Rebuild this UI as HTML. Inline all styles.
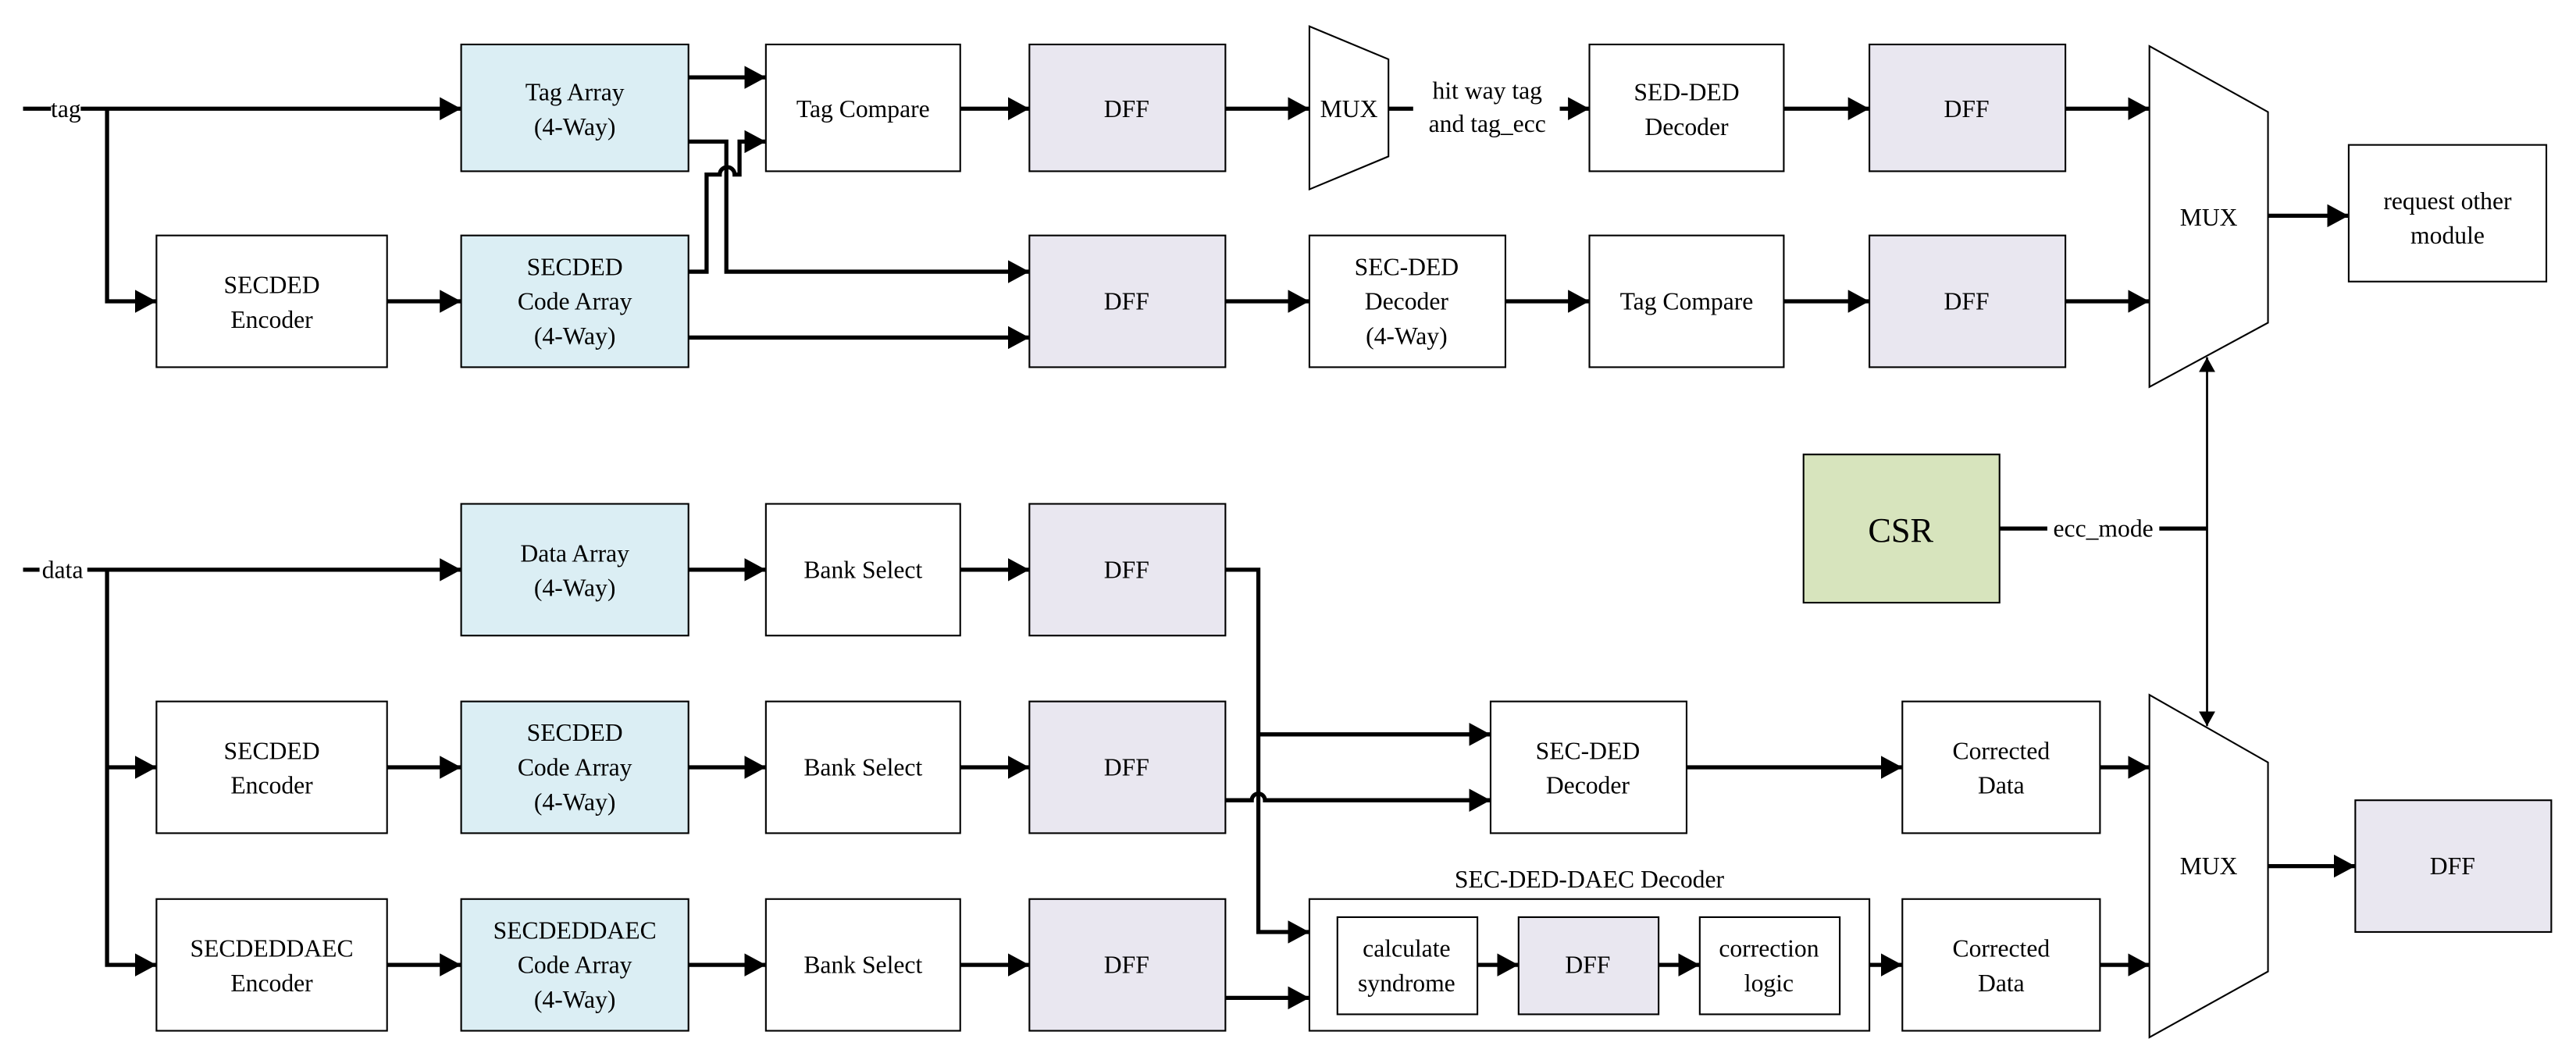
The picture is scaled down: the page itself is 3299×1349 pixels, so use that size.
<!DOCTYPE html>
<html><head><meta charset="utf-8"><style>
html,body{margin:0;padding:0;background:#fff;}
svg{display:block;}
text{font-family:"Liberation Serif",serif;font-size:15px;fill:#000;text-anchor:middle;}
</style></head><body>
<svg width="3299" height="1349" viewBox="0 0 1564 639.5" preserveAspectRatio="none" xmlns="http://www.w3.org/2000/svg">
<defs>
<marker id="a" markerUnits="userSpaceOnUse" markerWidth="14" markerHeight="14" refX="13" refY="7" orient="auto"><path d="M0,0 L13,7 L0,14 Z" fill="#000"/></marker>
<marker id="t" markerUnits="userSpaceOnUse" markerWidth="10" markerHeight="12" refX="9" refY="5" orient="auto"><path d="M0,0 L9,5 L0,10 Z" fill="#000"/></marker>
</defs>
<g stroke="#000" stroke-width="1" fill="#fff">
<rect x="280" y="27" width="138" height="77" fill="#dbeef4"/>
<rect x="465" y="27" width="118" height="77"/>
<rect x="625" y="27" width="119" height="77" fill="#e9e7f0"/>
<polygon points="795,16 843,36 843,95 795,115"/>
<rect x="965" y="27" width="118" height="77"/>
<rect x="1135" y="27" width="119" height="77" fill="#e9e7f0"/>
<polygon points="1305,28 1377,68 1377,196 1305,235"/>
<rect x="1426" y="88" width="120" height="83"/>
<rect x="95" y="143" width="140" height="80"/>
<rect x="280" y="143" width="138" height="80" fill="#dbeef4"/>
<rect x="625" y="143" width="119" height="80" fill="#e9e7f0"/>
<rect x="795" y="143" width="119" height="80"/>
<rect x="965" y="143" width="118" height="80"/>
<rect x="1135" y="143" width="119" height="80" fill="#e9e7f0"/>
<rect x="1095" y="276" width="119" height="90" fill="#d7e4bd"/>
<rect x="280" y="306" width="138" height="80" fill="#dbeef4"/>
<rect x="465" y="306" width="118" height="80"/>
<rect x="625" y="306" width="119" height="80" fill="#e9e7f0"/>
<rect x="95" y="426" width="140" height="80"/>
<rect x="280" y="426" width="138" height="80" fill="#dbeef4"/>
<rect x="465" y="426" width="118" height="80"/>
<rect x="625" y="426" width="119" height="80" fill="#e9e7f0"/>
<rect x="95" y="546" width="140" height="80"/>
<rect x="280" y="546" width="138" height="80" fill="#dbeef4"/>
<rect x="465" y="546" width="118" height="80"/>
<rect x="625" y="546" width="119" height="80" fill="#e9e7f0"/>
<rect x="905" y="426" width="119" height="80"/>
<rect x="1155" y="426" width="120" height="80"/>
<rect x="795" y="546" width="340" height="80"/>
<rect x="812" y="557" width="85" height="59"/>
<rect x="922" y="557" width="85" height="59" fill="#e9e7f0"/>
<rect x="1032" y="557" width="85" height="59"/>
<rect x="1155" y="546" width="120" height="80"/>
<polygon points="1305,422 1377,463 1377,590 1305,630"/>
<rect x="1430" y="486" width="119" height="80" fill="#e9e7f0"/>
</g>
<g stroke="#000" stroke-width="2.5" fill="none">
<line x1="14" y1="66" x2="31" y2="66"/>
<line x1="49" y1="66" x2="280" y2="66" marker-end="url(#a)"/>
<polyline points="65,66 65,183 95,183" marker-end="url(#a)"/>
<line x1="235" y1="183" x2="280" y2="183" marker-end="url(#a)"/>
<line x1="418" y1="47" x2="465" y2="47" marker-end="url(#a)"/>
<polyline points="418,86 441,86 441,165 625,165" marker-end="url(#a)"/>
<path d="M418,165 H429 V106 H437 A4,4 0 0 1 446,106 H449 V86 H465" marker-end="url(#a)"/>
<line x1="418" y1="205" x2="625" y2="205" marker-end="url(#a)"/>
<line x1="583" y1="66" x2="625" y2="66" marker-end="url(#a)"/>
<line x1="744" y1="66" x2="795" y2="66" marker-end="url(#a)"/>
<line x1="843" y1="66" x2="858" y2="66"/>
<line x1="947" y1="66" x2="965" y2="66" marker-end="url(#a)"/>
<line x1="1083" y1="66" x2="1135" y2="66" marker-end="url(#a)"/>
<line x1="1254" y1="66" x2="1305" y2="66" marker-end="url(#a)"/>
<line x1="744" y1="183" x2="795" y2="183" marker-end="url(#a)"/>
<line x1="914" y1="183" x2="965" y2="183" marker-end="url(#a)"/>
<line x1="1083" y1="183" x2="1135" y2="183" marker-end="url(#a)"/>
<line x1="1254" y1="183" x2="1305" y2="183" marker-end="url(#a)"/>
<line x1="1377" y1="131" x2="1426" y2="131" marker-end="url(#a)"/>
<line x1="1214" y1="321" x2="1243" y2="321"/>
<line x1="1311" y1="321" x2="1340" y2="321"/>
<line x1="14" y1="346" x2="24" y2="346"/>
<line x1="53" y1="346" x2="280" y2="346" marker-end="url(#a)"/>
<polyline points="65,346 65,586 95,586" marker-end="url(#a)"/>
<line x1="65" y1="466" x2="95" y2="466" marker-end="url(#a)"/>
<line x1="235" y1="466" x2="280" y2="466" marker-end="url(#a)"/>
<line x1="235" y1="586" x2="280" y2="586" marker-end="url(#a)"/>
<line x1="418" y1="346" x2="465" y2="346" marker-end="url(#a)"/>
<line x1="418" y1="466" x2="465" y2="466" marker-end="url(#a)"/>
<line x1="418" y1="586" x2="465" y2="586" marker-end="url(#a)"/>
<line x1="583" y1="346" x2="625" y2="346" marker-end="url(#a)"/>
<line x1="583" y1="466" x2="625" y2="466" marker-end="url(#a)"/>
<line x1="583" y1="586" x2="625" y2="586" marker-end="url(#a)"/>
<polyline points="744,346 764,346 764,566 795,566" marker-end="url(#a)"/>
<line x1="764" y1="446" x2="905" y2="446" marker-end="url(#a)"/>
<path d="M744,486 H760 A4,4 0 0 1 768,486 H905" marker-end="url(#a)"/>
<line x1="744" y1="606" x2="795" y2="606" marker-end="url(#a)"/>
<line x1="1024" y1="466" x2="1155" y2="466" marker-end="url(#a)"/>
<line x1="897" y1="586" x2="922" y2="586" marker-end="url(#a)"/>
<line x1="1007" y1="586" x2="1032" y2="586" marker-end="url(#a)"/>
<line x1="1135" y1="586" x2="1155" y2="586" marker-end="url(#a)"/>
<line x1="1275" y1="466" x2="1305" y2="466" marker-end="url(#a)"/>
<line x1="1275" y1="586" x2="1305" y2="586" marker-end="url(#a)"/>
<line x1="1377" y1="526" x2="1430" y2="526" marker-end="url(#a)"/>
</g>
<g stroke="#000" stroke-width="1.2" fill="none">
<line x1="1340" y1="440" x2="1340" y2="217" marker-end="url(#t)"/>
<line x1="1340" y1="217" x2="1340" y2="441" marker-end="url(#t)"/>
</g>
<g>
<text x="40" y="71">tag</text>
<text x="38" y="351">data</text>
<text x="349" y="61">Tag Array</text><text x="349" y="82">(4-Way)</text>
<text x="524" y="71">Tag Compare</text>
<text x="684" y="71">DFF</text>
<text x="819" y="71">MUX</text>
<text x="903" y="60">hit way tag</text><text x="903" y="80">and tag_ecc</text>
<text x="1024" y="61">SED-DED</text><text x="1024" y="82">Decoder</text>
<text x="1194" y="71">DFF</text>
<text x="1341" y="137">MUX</text>
<text x="1486" y="127">request other</text><text x="1486" y="148">module</text>
<text x="165" y="178">SECDED</text><text x="165" y="199">Encoder</text>
<text x="349" y="167">SECDED</text><text x="349" y="188">Code Array</text><text x="349" y="209">(4-Way)</text>
<text x="684" y="188">DFF</text>
<text x="854" y="167">SEC-DED</text><text x="854" y="188">Decoder</text><text x="854" y="209">(4-Way)</text>
<text x="1024" y="188">Tag Compare</text>
<text x="1194" y="188">DFF</text>
<text x="1154" y="329" style="font-size:21px">CSR</text>
<text x="1277" y="326">ecc_mode</text>
<text x="349" y="341">Data Array</text><text x="349" y="362">(4-Way)</text>
<text x="524" y="351">Bank Select</text>
<text x="684" y="351">DFF</text>
<text x="165" y="461">SECDED</text><text x="165" y="482">Encoder</text>
<text x="349" y="450">SECDED</text><text x="349" y="471">Code Array</text><text x="349" y="492">(4-Way)</text>
<text x="524" y="471">Bank Select</text>
<text x="684" y="471">DFF</text>
<text x="165" y="581">SECDEDDAEC</text><text x="165" y="602">Encoder</text>
<text x="349" y="570">SECDEDDAEC</text><text x="349" y="591">Code Array</text><text x="349" y="612">(4-Way)</text>
<text x="524" y="591">Bank Select</text>
<text x="684" y="591">DFF</text>
<text x="964" y="461">SEC-DED</text><text x="964" y="482">Decoder</text>
<text x="1215" y="461">Corrected</text><text x="1215" y="482">Data</text>
<text x="965" y="539">SEC-DED-DAEC Decoder</text>
<text x="854" y="581">calculate</text><text x="854" y="602">syndrome</text>
<text x="964" y="591">DFF</text>
<text x="1074" y="581">correction</text><text x="1074" y="602">logic</text>
<text x="1215" y="581">Corrected</text><text x="1215" y="602">Data</text>
<text x="1341" y="531">MUX</text>
<text x="1489" y="531">DFF</text>
</g>
</svg>
</body></html>
